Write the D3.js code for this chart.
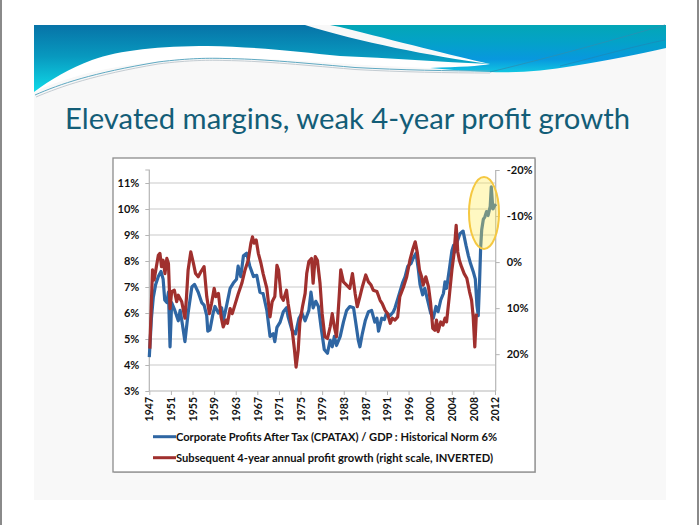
<!DOCTYPE html>
<html><head><meta charset="utf-8">
<script src="https://cdn.jsdelivr.net/npm/d3@7"></script>
<style>body{margin:0;background:#fff}svg{display:block}</style>
</head><body>
<script>
// ---------- data ----------
const slideTitle = "Elevated margins, weak 4-year profit growth";
const xTickLabels = ["1947","1951","1955","1959","1963","1967","1971","1975","1979","1983","1987","1991","1996","2000","2004","2008","2012"];
const leftTicks = [3,4,5,6,7,8,9,10,11];
const rightTicks = [-20,-10,0,10,20];
const legendLabels = ["Corporate Profits After Tax (CPATAX) / GDP : Historical Norm 6%",
                      "Subsequent 4-year annual profit growth (right scale, INVERTED)"];

const marginYears = [1947.0,1947.4,1947.75,1948.2,1948.7,1949.2,1949.6,1949.9,1950.3,1950.6,1950.9,1951.2,1951.8,1952.45,1952.8,1953.2,1953.7,1954.3,1955.0,1955.5,1956.2,1956.85,1957.3,1957.8,1958.0,1958.4,1959.0,1959.35,1960.0,1960.6,1960.9,1961.55,1962.2,1962.8,1963.4,1963.7,1964.2,1964.7,1965.3,1965.9,1966.6,1967.2,1967.8,1968.4,1969.1,1969.7,1970.3,1970.6,1971.0,1971.6,1972.2,1972.8,1973.1,1973.8,1974.5,1975.15,1975.7,1976.3,1977.0,1977.4,1977.8,1978.3,1978.8,1979.3,1979.9,1980.5,1981.0,1981.4,1981.8,1982.2,1982.9,1983.5,1984.1,1984.7,1985.4,1985.8,1986.3,1986.6,1987.05,1987.6,1988.2,1988.8,1989.4,1989.8,1990.1,1990.7,1991.2,1991.6,1992.3,1992.9,1993.2,1993.8,1994.6,1995.1,1995.6,1996.2,1996.6,1997.15,1997.6,1997.9,1998.4,1998.8,1999.5,1999.9,2000.4,2000.9,2001.3,2001.8,2002.3,2002.6,2002.9,2003.4,2003.9,2004.2,2004.5,2004.9,2005.4,2006.0,2006.55,2007.0,2007.4,2007.9,2008.3,2008.6,2008.85,2009.1,2009.3,2009.5,2009.8,2010.1,2010.4,2010.7,2011.1,2011.3,2011.6,2012.0,2012.1];
const marginValues = [4.3,5.8,6.6,7.1,7.4,7.6,7.3,6.5,6.4,6.8,4.7,6.4,6.1,5.7,6.1,5.6,4.9,6.0,7.0,7.1,6.8,6.4,6.3,5.9,5.3,5.35,6.0,6.25,6.0,6.2,5.7,6.3,6.95,7.15,7.3,7.8,7.4,8.2,8.3,7.8,7.4,7.45,6.8,6.75,6.1,5.1,5.2,4.9,5.45,5.65,6.05,6.2,5.85,5.35,5.2,5.8,6.0,5.7,6.1,6.8,6.2,6.45,6.25,5.45,4.6,4.45,4.95,4.7,5.1,4.75,5.1,5.65,6.1,6.25,6.2,5.65,4.95,4.7,5.2,5.7,6.05,6.1,5.65,5.8,5.3,5.8,5.75,6.0,5.9,6.05,6.2,6.6,7.15,7.4,7.8,7.9,8.1,8.3,7.65,7.1,6.7,6.95,6.35,6.0,5.8,6.25,6.05,6.5,6.75,7.2,6.95,7.65,8.4,8.6,8.35,8.75,9.05,9.15,8.6,8.2,7.9,7.6,7.3,6.3,5.9,7.2,8.5,9.2,9.6,9.7,9.9,9.75,10.1,10.85,10.0,10.15,10.1];

const growthYears = [1947.1,1947.6,1947.9,1948.7,1949.0,1949.3,1949.6,1949.95,1950.3,1950.6,1950.9,1951.2,1951.7,1952.15,1952.45,1953.1,1953.7,1954.0,1954.3,1954.8,1955.3,1955.7,1956.2,1956.7,1957.3,1957.8,1958.3,1958.7,1959.2,1959.5,1960.0,1960.5,1960.9,1961.4,1961.7,1962.2,1962.6,1963.1,1963.7,1964.4,1965.0,1965.6,1966.1,1966.4,1966.7,1967.1,1967.5,1968.0,1968.4,1969.1,1969.7,1970.1,1970.6,1971.0,1971.3,1971.8,1972.2,1972.8,1973.1,1973.8,1974.3,1974.6,1975.0,1975.3,1975.8,1976.3,1976.6,1977.0,1977.5,1977.8,1978.2,1978.6,1979.1,1979.5,1980.0,1980.5,1981.0,1981.4,1981.8,1982.2,1982.7,1983.0,1983.5,1984.1,1984.7,1985.2,1985.7,1986.1,1986.6,1987.05,1987.7,1988.2,1988.7,1989.1,1989.8,1990.4,1990.8,1991.3,1991.8,1992.3,1992.7,1993.2,1993.7,1994.1,1994.8,1995.4,1996.0,1996.5,1997.0,1997.4,1997.8,1998.2,1998.5,1999.0,1999.5,1999.9,2000.3,2000.7,2001.0,2001.3,2001.8,2002.2,2002.6,2002.9,2003.4,2003.9,2004.3,2004.7,2005.0,2005.3,2005.7,2006.2,2006.7,2007.2,2007.6,2007.9,2008.2,2008.5];
const growthValues = [18.8,1.7,3.9,-1.5,-1.9,1.0,-0.4,2.5,-0.8,0.3,10.1,6.4,6.1,8.6,7.2,8.6,12.2,7.5,1.7,-2.2,0.3,2.5,3.2,2.1,1.0,7.5,11.2,9.0,5.7,7.5,6.8,11.9,14.1,12.6,13.3,10.1,11.2,9.3,7.0,4.6,1.7,-0.4,-4.1,-5.5,-4.1,-4.8,-1.9,0.3,2.5,5.7,11.9,8.6,7.5,0.7,1.7,7.5,8.3,6.1,9.0,14.1,19.1,22.8,19.1,13.3,9.7,6.8,2.5,-0.1,-0.8,4.6,-1.2,-0.4,4.6,11.2,16.2,16.6,14.1,11.2,14.1,16.2,7.5,1.7,4.3,5.0,5.7,2.5,6.8,9.7,7.5,5.4,2.8,4.3,5.0,6.1,6.4,8.3,9.0,10.4,11.2,13.3,12.2,12.6,11.9,7.5,5.4,3.2,-0.4,-2.6,-4.4,-2.0,1.7,3.2,5.0,3.2,5.4,9.0,14.4,14.8,12.6,15.1,13.0,13.7,12.2,13.0,7.5,1.7,-1.9,-8.0,-2.2,-0.4,1.0,2.5,3.5,6.4,8.3,11.9,18.4,11.2];

// ---------- canvas ----------
const W = 700, H = 525;
const svg = d3.select("body").append("svg").attr("width", W).attr("height", H);
const defs = svg.append("defs");

svg.append("rect").attr("width", W).attr("height", H).attr("fill", "#fff");
// slide background
svg.append("rect").attr("x", 34).attr("y", 25).attr("width", 632).attr("height", 475).attr("fill", "#f8f8f8");
// page borders
svg.append("line").attr("x1", 1).attr("x2", 1).attr("y1", 0).attr("y2", H).attr("stroke", "#8a8a8a").attr("stroke-width", 2);
svg.append("line").attr("x1", 698).attr("x2", 698).attr("y1", 0).attr("y2", H).attr("stroke", "#8a8a8a").attr("stroke-width", 2);

// ---------- header wave ----------
const g1 = defs.append("linearGradient").attr("id", "gLeft").attr("gradientUnits", "userSpaceOnUse")
  .attr("x1", 0).attr("y1", 25).attr("x2", 0).attr("y2", 95);
g1.append("stop").attr("offset", "0%").attr("stop-color", "#0773a7");
g1.append("stop").attr("offset", "45%").attr("stop-color", "#0899bf");
g1.append("stop").attr("offset", "100%").attr("stop-color", "#10e0ec");
const g2 = defs.append("linearGradient").attr("id", "gRight").attr("gradientUnits", "userSpaceOnUse")
  .attr("x1", 0).attr("y1", 25).attr("x2", 0).attr("y2", 74);
g2.append("stop").attr("offset", "0%").attr("stop-color", "#03a6b6");
g2.append("stop").attr("offset", "35%").attr("stop-color", "#04a2c8");
g2.append("stop").attr("offset", "70%").attr("stop-color", "#0898de");
g2.append("stop").attr("offset", "100%").attr("stop-color", "#12cce2");

const header = svg.append("g");
// white region under the bands
header.append("path")
  .attr("d", "M34,92 C80,70 150,58 225,58 C300,59 380,68 490,70 L490,60 C380,50 250,40 150,45 C90,50 60,70 34,92 Z")
  .attr("fill", "#ffffff");
// left band
header.append("path")
  .attr("d", "M34,25 H305 C360,42 430,56 490,64 C440,62 390,58 340,56 C300,52 260,47 208,46 C160,46 120,50 92,60 C70,68 50,80 34,92 Z")
  .attr("fill", "url(#gLeft)");
// right band
header.append("path")
  .attr("d", "M330,25 H666 V48 C640,54 610,60 573,66 C545,71 515,73 490,72 C470,71 450,70 430,68 C460,67 480,66 490,64 C450,55 400,42 340,27 Z")
  .attr("fill", "url(#gRight)");
// thin lines under wave
header.append("path")
  .attr("d", "M35,95 C60,84 92,73 158,62 C190,58 210,58 225,58.5 C260,59 292,62 355,67.5 C400,70 450,71 490,71")
  .attr("fill", "none").attr("stroke", "#5fa9c2").attr("stroke-width", 1);
header.append("path")
  .attr("d", "M36,97 C62,86 94,75 158,64 C190,60 210,60 225,60.5 C260,61 292,64 355,69.5 C400,72 450,73 490,73")
  .attr("fill", "none").attr("stroke", "#c4ccd2").attr("stroke-width", 1);
// diagonal thin lines in right band
header.append("path")
  .attr("d", "M490,72 C560,55 620,38 665,25")
  .attr("fill", "none").attr("stroke", "#2b8fb3").attr("stroke-width", 0.8);
header.append("path")
  .attr("d", "M560,66 C600,56 635,46 665,40")
  .attr("fill", "none").attr("stroke", "#1e86b6").attr("stroke-width", 0.7);

// ---------- title ----------
const title = svg.append("text")
  .attr("x", 347.5).attr("y", 129)
  .attr("text-anchor", "middle")
  .style("font-family", "Lato, 'Open Sans', sans-serif")
  .style("font-size", "30px")
  .attr("fill", "#135d77")
  .text(slideTitle);
{
  const w = title.node().getComputedTextLength();
  title.style("font-size", (30 * 565 / w).toFixed(2) + "px");
}

// ---------- chart frame ----------
svg.append("rect").attr("x", 114).attr("y", 159).attr("width", 422).attr("height", 314).attr("fill", "#c8c8c8");
svg.append("rect").attr("x", 113).attr("y", 158).attr("width", 422).attr("height", 314)
  .attr("fill", "#fff").attr("stroke", "#8c8c8c").attr("stroke-width", 1.3);

// ---------- scales ----------
const plotL = 149.3, plotR = 495.7, plotT = 170, plotB = 391;
const x = d3.scaleLinear().domain([1947, 2012]).range([plotL, 495]);
const xPoint = d3.scalePoint().domain(xTickLabels).range([plotL, 495]);
const yL = d3.scaleLinear().domain([3, 11.5]).range([plotB, plotT]);
const yR = d3.scaleLinear().domain([-20, 28]).range([plotT, plotB]);

const fontAxis = "Lato, 'Liberation Sans', sans-serif";

// gridlines
svg.append("g").selectAll("line").data(leftTicks.filter(d => d > 3)).join("line")
  .attr("x1", plotL).attr("x2", plotR)
  .attr("y1", d => yL(d)).attr("y2", d => yL(d))
  .attr("stroke", "#c9c9c9").attr("stroke-width", 1);

function styleAxis(g) {
  g.select(".domain").attr("stroke", "#b5b5b5").attr("stroke-width", 1.2);
  g.selectAll(".tick line").attr("stroke", "#b5b5b5").attr("stroke-width", 1);
  g.selectAll(".tick text").attr("fill", "#111")
    .style("font-family", fontAxis).style("font-weight", "bold").style("font-size", "11px");
}

const axL = svg.append("g").attr("transform", `translate(${plotL},0)`)
  .call(d3.axisLeft(yL).tickValues(leftTicks).tickSize(4).tickPadding(6).tickFormat(d => d + "%"));
axL.select(".domain").attr("d", `M-4,${plotT}H0V${plotB}`);
styleAxis(axL);

const axR = svg.append("g").attr("transform", `translate(${plotR},0)`)
  .call(d3.axisRight(yR).tickValues(rightTicks).tickSize(4).tickPadding(7).tickFormat(d => d + "%"));
axR.select(".domain").attr("d", `M0,${plotT}V${plotB}`);
styleAxis(axR);

const axB = svg.append("g").attr("transform", `translate(0,${plotB})`)
  .call(d3.axisBottom(xPoint).tickSize(4));
axB.select(".domain").attr("d", `M${plotL},0H${plotR}`);
styleAxis(axB);
axB.selectAll(".tick text")
  .attr("transform", "rotate(-90)")
  .attr("x", -6).attr("y", 0).attr("dy", "0.35em")
  .style("text-anchor", "end").style("font-size", "10.5px");

// ---------- lines ----------
const blue = "#2f66a3", red = "#a0302e";
const marginData = marginYears.map((yr, i) => [yr, marginValues[i]]);
const growthData = growthYears.map((yr, i) => [yr, growthValues[i]]);

svg.append("path").datum(marginData)
  .attr("fill", "none").attr("stroke", blue).attr("stroke-width", 3.2).attr("stroke-linejoin", "round")
  .attr("d", d3.line().x(d => x(d[0])).y(d => yL(d[1])));
svg.append("path").datum(growthData)
  .attr("fill", "none").attr("stroke", red).attr("stroke-width", 3.2).attr("stroke-linejoin", "round")
  .attr("d", d3.line().x(d => x(d[0])).y(d => yR(d[1])));

// highlight ellipse
svg.append("ellipse").attr("cx", 484).attr("cy", 213).attr("rx", 15).attr("ry", 36)
  .attr("fill", "rgb(255,235,80)").attr("fill-opacity", 0.35)
  .attr("stroke", "#f5c842").attr("stroke-width", 2);

// ---------- legend ----------
const legend = svg.append("g");
const legendColors = [blue, red];
const legendY = [436.7, 457.7];
const legendW = [321, 317];
legendLabels.forEach((lab, i) => {
  legend.append("line").attr("x1", 153).attr("x2", 176).attr("y1", legendY[i]).attr("y2", legendY[i])
    .attr("stroke", legendColors[i]).attr("stroke-width", 3);
  legend.append("text").attr("x", 176).attr("y", legendY[i] + 4)
    .style("font-family", fontAxis).style("font-weight", "bold").style("font-size", "11.5px")
    .attr("fill", "#111")
    .attr("textLength", legendW[i]).attr("lengthAdjust", "spacingAndGlyphs")
    .text(lab);
});
</script>
</body></html>
